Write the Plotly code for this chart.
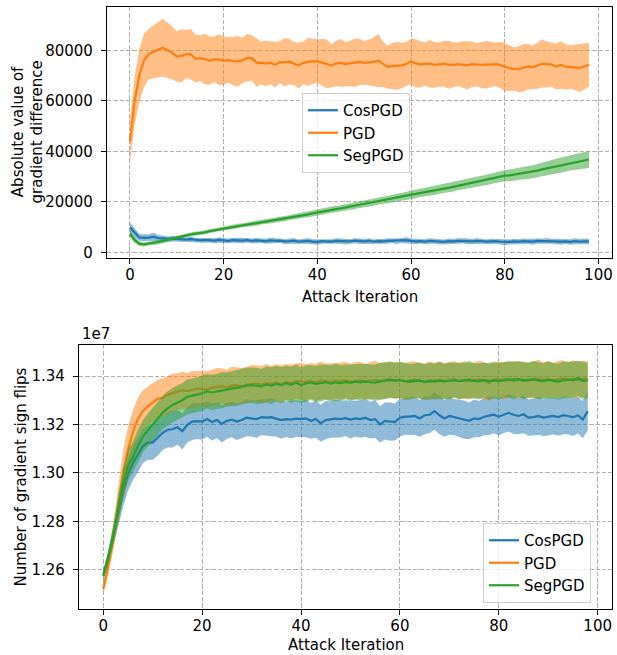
import numpy as np
import plotly.graph_objects as go

# ---------------------------------------------------------------- data
iterations = list(range(99))
series_names = ["CosPGD", "PGD", "SegPGD"]

# Absolute value of gradient difference (mean and std per iteration)
cos_diff_mean = [
    10000, 7800, 6000, 5800, 5900, 6300, 5700, 5600, 5400, 5500,
    5300, 5200, 5100, 5300, 4900, 4800, 5000, 4900, 4700, 5000,
    4800, 4600, 4900, 4800, 4700, 4900, 4600, 4800, 4700, 4500,
    4800, 4600, 4700, 4400, 4500, 4700, 4300, 4400, 4600, 4300,
    4200, 4500, 4400, 4300, 4600, 4500, 4300, 4400, 4700, 4500,
    4400, 4600, 4300, 4500, 4400, 4600, 4700, 4500, 4800, 4900,
    4600, 4400, 4500, 4300, 4600, 4500, 4400, 4200, 4500, 4400,
    4600, 4700, 4500, 4400, 4600, 4500, 4300, 4400, 4500, 4300,
    4100, 4200, 4400, 4300, 4500, 4400, 4300, 4600, 4500, 4700,
    4500, 4400, 4300, 4400, 4200, 4500, 4300, 4400, 4400]
cos_diff_std = [
    1900, 1700, 1300, 1400, 1200, 1600, 1200, 1100, 1000, 1100,
    1000, 900, 1000, 1100, 900, 1000, 1100, 900, 1000, 1100,
    1000, 900, 1000, 1100, 1000, 900, 1000, 1100, 900, 1000,
    1100, 1000, 900, 1000, 1100, 1000, 900, 1000, 1100, 1000,
    1100, 1000, 900, 1000, 1100, 1000, 1100, 900, 1000, 1100,
    1000, 1100, 900, 1000, 1000, 1100, 900, 1100, 1000, 1200,
    1000, 1100, 900, 1000, 1100, 1000, 1200, 1000, 1100, 1000,
    1100, 1000, 1200, 1000, 1100, 1000, 900, 1100, 1000, 1100,
    1200, 1000, 1100, 1000, 1100, 1000, 1200, 1100, 1000, 1100,
    1000, 1100, 1200, 1000, 1100, 1200, 1100, 1200, 1100]

pgd_diff_mean = [
    44000, 60000, 70000, 76000, 78500, 79500, 80200, 81000, 80000, 79000,
    77500, 77800, 78500, 78400, 76600, 76900, 76500, 75900, 76400, 76300,
    75900, 76100, 75700, 75600, 76000, 76900, 77000, 75100, 75000, 74800,
    75100, 74300, 75300, 75200, 75500, 74700, 74000, 75000, 75400, 75700,
    75600, 75200, 74600, 73900, 74800, 75000, 74500, 74800, 75000, 75400,
    75000, 75200, 75400, 75900, 74500, 73400, 73700, 73800, 74000, 74600,
    75600, 74800, 74400, 74600, 74700, 74200, 74400, 74700, 74300, 74200,
    74500, 74400, 74000, 74500, 74300, 74200, 74300, 74400, 74500, 74200,
    73500, 72900, 72600, 72500, 73100, 73600, 73300, 74000, 74700, 74500,
    74300, 73600, 74200, 73500, 73400, 73300, 73000, 73600, 74300]
pgd_diff_std = [
    8500, 9500, 10500, 10500, 10000, 10500, 11000, 11500, 11000, 10500,
    10000, 10500, 9500, 10000, 9500, 9000, 10000, 9500, 9000, 10000,
    9500, 9000, 9500, 10000, 9000, 9500, 9000, 9500, 8500, 9000,
    8500, 9000, 8300, 9500, 9000, 8500, 9100, 8400, 9500, 9000,
    8600, 9200, 9600, 8500, 9000, 9400, 8700, 9000, 9500, 9100,
    8600, 9000, 9500, 10500, 9000, 8500, 9200, 9500, 9000, 8600,
    9000, 9500, 9100, 8500, 9400, 9000, 8700, 9100, 9500, 9000,
    8600, 9200, 9500, 9000, 8500, 9100, 9400, 9000, 8600, 9100,
    9500, 9000, 8600, 9100, 9400, 9000, 8600, 9200, 9500, 9000,
    8700, 9100, 9400, 9000, 8600, 9000, 9500, 9100, 8700]

seg_diff_mean = [
    7500, 5000, 3500, 3200, 3600, 3900, 4000, 4500, 5000, 5500,
    6000, 6400, 6900, 7200, 7500, 7700, 8000, 8500, 8800, 9200,
    9600, 9900, 10200, 10500, 10800, 11100, 11300, 11600, 12000, 12300,
    12500, 12900, 13200, 13400, 13900, 14200, 14500, 14700, 15100, 15500,
    15900, 16200, 16600, 16900, 17200, 17500, 17900, 18200, 18500, 18900,
    19300, 19600, 20000, 20300, 20700, 21000, 21300, 21800, 22100, 22500,
    22900, 23200, 23600, 23900, 24300, 24600, 25000, 25300, 25600, 26000,
    26400, 26800, 27100, 27500, 27900, 28300, 28700, 29100, 29600, 30100,
    30400, 30500, 30800, 31200, 31500, 31600, 31900, 32400, 32900, 33300,
    33700, 34200, 34600, 35000, 35500, 35900, 36300, 36500, 36800]
seg_diff_std = [
    1500, 1200, 900, 800, 800, 800, 800, 700, 800, 700,
    800, 800, 700, 800, 800, 700, 800, 800, 900, 800,
    900, 800, 900, 900, 800, 900, 900, 1000, 900, 1000,
    1000, 1100, 1000, 1100, 1000, 1100, 1100, 1200, 1100, 1200,
    1200, 1300, 1200, 1300, 1200, 1300, 1300, 1400, 1300, 1400,
    1400, 1500, 1400, 1500, 1400, 1500, 1500, 1600, 1500, 1600,
    1600, 1700, 1600, 1700, 1700, 1800, 1700, 1800, 1800, 1900,
    1800, 1900, 1900, 2000, 1900, 2000, 2000, 2100, 2100, 2200,
    2200, 2300, 2300, 2400, 2500, 2500, 2600, 2600, 2700, 2800,
    2800, 2900, 3000, 3000, 3100, 3200, 3200, 3300, 3400]

# Number of gradient sign flips, in units of 1e7 (mean and std per iteration)
FLIP_SCALE = 1e7
cos_flips_mean = [
    1.2578, 1.2648, 1.2735, 1.2830, 1.2920, 1.2995, 1.3040, 1.3075, 1.3110, 1.3125,
    1.3125, 1.3145, 1.3165, 1.3178, 1.3180, 1.3188, 1.3172, 1.3198, 1.3212, 1.3214,
    1.3212, 1.3222, 1.3210, 1.3218, 1.3202, 1.3215, 1.3220, 1.3212, 1.3218, 1.3228,
    1.3225, 1.3222, 1.3230, 1.3228, 1.3230, 1.3225, 1.3218, 1.3222, 1.3220, 1.3224,
    1.3222, 1.3225, 1.3215, 1.3222, 1.3205, 1.3218, 1.3220, 1.3224, 1.3222, 1.3226,
    1.3220, 1.3225, 1.3222, 1.3228, 1.3218, 1.3222, 1.3200, 1.3215, 1.3212, 1.3210,
    1.3228, 1.3232, 1.3232, 1.3235, 1.3225, 1.3238, 1.3240, 1.3255, 1.3238, 1.3225,
    1.3235, 1.3230, 1.3225, 1.3220, 1.3215, 1.3225, 1.3222, 1.3232, 1.3235, 1.3240,
    1.3232, 1.3240, 1.3248, 1.3240, 1.3235, 1.3242, 1.3228, 1.3230, 1.3235, 1.3228,
    1.3232, 1.3235, 1.3230, 1.3238, 1.3235, 1.3230, 1.3238, 1.3220, 1.3255]
cos_flips_std = [
    0.0018, 0.0028, 0.0040, 0.0052, 0.0062, 0.0068, 0.0070, 0.0072, 0.0070, 0.0071,
    0.0072, 0.0074, 0.0071, 0.0073, 0.0075, 0.0072, 0.0074, 0.0073, 0.0076, 0.0074,
    0.0075, 0.0073, 0.0076, 0.0074, 0.0077, 0.0075, 0.0073, 0.0076, 0.0074, 0.0077,
    0.0075, 0.0078, 0.0074, 0.0076, 0.0079, 0.0075, 0.0077, 0.0074, 0.0078, 0.0076,
    0.0075, 0.0078, 0.0074, 0.0077, 0.0076, 0.0079, 0.0075, 0.0078, 0.0076, 0.0074,
    0.0078, 0.0075, 0.0077, 0.0079, 0.0076, 0.0078, 0.0075, 0.0077, 0.0079, 0.0076,
    0.0078, 0.0075, 0.0077, 0.0079, 0.0076, 0.0078, 0.0075, 0.0077, 0.0079, 0.0076,
    0.0078, 0.0075, 0.0077, 0.0079, 0.0076, 0.0078, 0.0075, 0.0077, 0.0079, 0.0076,
    0.0078, 0.0075, 0.0077, 0.0079, 0.0076, 0.0078, 0.0075, 0.0077, 0.0079, 0.0076,
    0.0078, 0.0075, 0.0077, 0.0079, 0.0076, 0.0078, 0.0075, 0.0077, 0.0079]

pgd_flips_mean = [
    1.2520, 1.2612, 1.2730, 1.2868, 1.2998, 1.3095, 1.3168, 1.3222, 1.3255, 1.3275,
    1.3290, 1.3306, 1.3310, 1.3322, 1.3330, 1.3336, 1.3341, 1.3338, 1.3344, 1.3347,
    1.3348, 1.3344, 1.3352, 1.3356, 1.3358, 1.3351, 1.3360, 1.3362, 1.3357, 1.3365,
    1.3368, 1.3370, 1.3365, 1.3372, 1.3369, 1.3374, 1.3367, 1.3376, 1.3371, 1.3380,
    1.3377, 1.3375, 1.3380, 1.3374, 1.3382, 1.3378, 1.3376, 1.3381, 1.3379, 1.3383,
    1.3377, 1.3380, 1.3384, 1.3376, 1.3381, 1.3385, 1.3379, 1.3382, 1.3386, 1.3380,
    1.3384, 1.3378, 1.3382, 1.3386, 1.3380, 1.3377, 1.3383, 1.3381, 1.3385, 1.3379,
    1.3382, 1.3386, 1.3380, 1.3384, 1.3378, 1.3383, 1.3387, 1.3381, 1.3372, 1.3384,
    1.3386, 1.3380, 1.3385, 1.3388, 1.3382, 1.3386, 1.3381, 1.3384, 1.3389, 1.3383,
    1.3387, 1.3382, 1.3386, 1.3390, 1.3384, 1.3388, 1.3383, 1.3389, 1.3386]
pgd_flips_std = [
    0.0022, 0.0035, 0.0055, 0.0075, 0.0090, 0.0095, 0.0092, 0.0088, 0.0085, 0.0082,
    0.0080, 0.0078, 0.0080, 0.0076, 0.0079, 0.0075, 0.0078, 0.0074, 0.0077, 0.0075,
    0.0073, 0.0076, 0.0074, 0.0077, 0.0073, 0.0075, 0.0078, 0.0074, 0.0076, 0.0073,
    0.0077, 0.0074, 0.0076, 0.0078, 0.0073, 0.0075, 0.0077, 0.0074, 0.0076, 0.0073,
    0.0077, 0.0075, 0.0073, 0.0076, 0.0078, 0.0074, 0.0076, 0.0073, 0.0077, 0.0075,
    0.0074, 0.0077, 0.0075, 0.0073, 0.0076, 0.0078, 0.0074, 0.0076, 0.0073, 0.0077,
    0.0075, 0.0074, 0.0077, 0.0075, 0.0073, 0.0076, 0.0078, 0.0074, 0.0076, 0.0073,
    0.0077, 0.0075, 0.0074, 0.0077, 0.0075, 0.0073, 0.0076, 0.0078, 0.0074, 0.0076,
    0.0073, 0.0077, 0.0075, 0.0074, 0.0077, 0.0075, 0.0073, 0.0076, 0.0078, 0.0074,
    0.0076, 0.0073, 0.0077, 0.0075, 0.0074, 0.0077, 0.0075, 0.0076, 0.0074]

seg_flips_mean = [
    1.2575, 1.2650, 1.2740, 1.2850, 1.2950, 1.3030, 1.3065, 1.3110, 1.3150, 1.3175,
    1.3200, 1.3225, 1.3248, 1.3266, 1.3280, 1.3290, 1.3300, 1.3314, 1.3318, 1.3322,
    1.3328, 1.3337, 1.3332, 1.3336, 1.3341, 1.3345, 1.3348, 1.3351, 1.3356, 1.3360,
    1.3362, 1.3359, 1.3357, 1.3365, 1.3360, 1.3368, 1.3362, 1.3370, 1.3364, 1.3372,
    1.3362, 1.3369, 1.3373, 1.3367, 1.3371, 1.3375, 1.3369, 1.3374, 1.3371, 1.3376,
    1.3372, 1.3377, 1.3374, 1.3378, 1.3375, 1.3373, 1.3378, 1.3381, 1.3384, 1.3382,
    1.3383, 1.3379, 1.3376, 1.3380, 1.3382, 1.3375, 1.3379, 1.3377, 1.3381, 1.3378,
    1.3380, 1.3383, 1.3379, 1.3381, 1.3385, 1.3380, 1.3378, 1.3383, 1.3379, 1.3382,
    1.3378, 1.3384, 1.3386, 1.3381, 1.3388, 1.3380, 1.3383, 1.3387, 1.3381, 1.3379,
    1.3384, 1.3381, 1.3377, 1.3382, 1.3385, 1.3383, 1.3391, 1.3380, 1.3382]
seg_flips_std = [
    0.0020, 0.0030, 0.0042, 0.0055, 0.0062, 0.0066, 0.0065, 0.0068, 0.0066, 0.0069,
    0.0068, 0.0070, 0.0069, 0.0071, 0.0070, 0.0072, 0.0070, 0.0073, 0.0071, 0.0072,
    0.0074, 0.0071, 0.0073, 0.0072, 0.0074, 0.0071, 0.0073, 0.0075, 0.0072, 0.0074,
    0.0073, 0.0075, 0.0072, 0.0074, 0.0076, 0.0073, 0.0075, 0.0072, 0.0074, 0.0076,
    0.0073, 0.0075, 0.0072, 0.0074, 0.0076, 0.0073, 0.0075, 0.0077, 0.0074, 0.0072,
    0.0075, 0.0073, 0.0076, 0.0074, 0.0072, 0.0075, 0.0077, 0.0074, 0.0076, 0.0073,
    0.0075, 0.0077, 0.0074, 0.0072, 0.0075, 0.0073, 0.0076, 0.0074, 0.0077, 0.0073,
    0.0075, 0.0072, 0.0076, 0.0074, 0.0077, 0.0073, 0.0075, 0.0072, 0.0078, 0.0074,
    0.0076, 0.0073, 0.0075, 0.0077, 0.0074, 0.0076, 0.0073, 0.0075, 0.0077, 0.0074,
    0.0076, 0.0073, 0.0075, 0.0077, 0.0074, 0.0076, 0.0073, 0.0078, 0.0074]

diff_ticks = [0, 20000, 40000, 60000, 80000]
flip_ticks = [1.26, 1.28, 1.30, 1.32, 1.34]
iter_ticks = [0, 20, 40, 60, 80, 100]

# ---------------------------------------------------------------- style
LINE_COLORS = ["#1f77b4", "#ff7f0e", "#2ca02c"]
BAND_COLORS = ["rgba(31,119,180,0.5)", "rgba(255,127,14,0.5)", "rgba(44,160,44,0.5)"]
FONT = "DejaVu Sans"
FS = 15
W, H = 617, 655


def px_x(p):
    return p / W


def px_y(p):
    return 1 - p / H


fig = go.Figure()


def add_band_series(mean, std, scale, name, idx, xa, ya, legend):
    m = np.asarray(mean, float) * scale
    s = np.asarray(std, float) * scale
    fig.add_trace(go.Scatter(x=iterations, y=m + s, mode="lines", line=dict(width=0),
                             showlegend=False, hoverinfo="skip", xaxis=xa, yaxis=ya))
    fig.add_trace(go.Scatter(x=iterations, y=m - s, mode="lines", line=dict(width=0),
                             fill="tonexty", fillcolor=BAND_COLORS[idx],
                             showlegend=False, hoverinfo="skip", xaxis=xa, yaxis=ya))
    fig.add_trace(go.Scatter(x=iterations, y=m, mode="lines", name=name,
                             line=dict(color=LINE_COLORS[idx], width=2.2),
                             legend=legend, xaxis=xa, yaxis=ya))


diff_data = [(cos_diff_mean, cos_diff_std), (pgd_diff_mean, pgd_diff_std),
             (seg_diff_mean, seg_diff_std)]
flip_data = [(cos_flips_mean, cos_flips_std), (pgd_flips_mean, pgd_flips_std),
             (seg_flips_mean, seg_flips_std)]

for i, (m, s) in enumerate(diff_data):
    add_band_series(m, s, 1.0, series_names[i], i, "x", "y", "legend")
for i, (m, s) in enumerate(flip_data):
    add_band_series(m, s, FLIP_SCALE, series_names[i], i, "x2", "y2", "legend2")

axis_common = dict(
    showline=True, linecolor="black", linewidth=1.2, mirror=True,
    ticks="outside", ticklen=5, tickwidth=1.2, tickcolor="black",
    showgrid=True, gridcolor="#b0b0b0", gridwidth=1, griddash="4.4px,1.9px",
    zeroline=False, automargin=False,
    tickfont=dict(family=FONT, size=FS, color="black"),
)
x_common = dict(axis_common, ticklabelstandoff=-2, tickvals=iter_ticks,
                range=[-4.9, 102.9])
y_common = dict(axis_common, ticklabelstandoff=5)

legend_common = dict(xanchor="left", yanchor="top", traceorder="normal",
                     bgcolor="rgba(255,255,255,0.8)", bordercolor="#cccccc",
                     borderwidth=1, font=dict(family=FONT, size=FS, color="black"))

fig.update_layout(
    width=W, height=H,
    margin=dict(l=0, r=0, t=0, b=0),
    paper_bgcolor="white", plot_bgcolor="white",
    font=dict(family=FONT, size=FS, color="black"),
    xaxis=dict(domain=[px_x(107), px_x(612)], anchor="y", **x_common),
    yaxis=dict(domain=[px_y(258), px_y(7)], range=[-2150, 97100], anchor="x",
               tickvals=diff_ticks, tickformat="d", **y_common),
    xaxis2=dict(domain=[px_x(79), px_x(612)], anchor="y2", **x_common),
    yaxis2=dict(domain=[px_y(609), px_y(345)],
                range=[1.2438 * FLIP_SCALE, 1.3528 * FLIP_SCALE], anchor="x2",
                tickvals=[t * FLIP_SCALE for t in flip_ticks],
                ticktext=[f"{t:.2f}" for t in flip_ticks], **y_common),
    legend=dict(x=px_x(302), y=px_y(93), **legend_common),
    legend2=dict(x=px_x(483), y=px_y(523), **legend_common),
    showlegend=True,
)

annotations = [
    dict(text="Attack Iteration", x=px_x(359.5), y=px_y(296.5), xanchor="center",
         yanchor="middle"),
    dict(text="Attack Iteration", x=px_x(345.5), y=px_y(645), xanchor="center",
         yanchor="middle"),
    dict(text="Absolute value of<br>gradient difference", x=px_x(27), y=px_y(132.5),
         xanchor="center", yanchor="middle", textangle=-90),
    dict(text="Number of gradient sign flips", x=px_x(20.5), y=px_y(477),
         xanchor="center", yanchor="middle", textangle=-90),
    dict(text="1e7", x=px_x(80), y=px_y(345), xanchor="left", yanchor="bottom"),
]
for a in annotations:
    a.update(xref="paper", yref="paper", showarrow=False,
             font=dict(family=FONT, size=FS, color="black"))
fig.update_layout(annotations=annotations)

fig.write_html("out.html")
